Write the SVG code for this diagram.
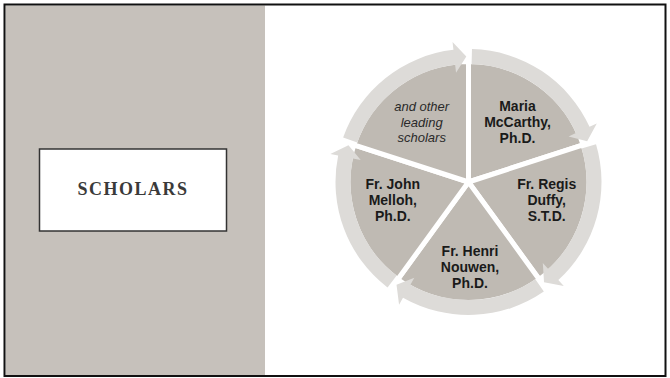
<svg xmlns="http://www.w3.org/2000/svg" width="670" height="378" viewBox="0 0 670 378">
<style>
.slice{fill:#bfbab3;stroke:#ffffff;stroke-width:5;stroke-linejoin:round}
.ring{fill:#dddbd8;stroke:none}
.lbl{font-family:"Liberation Sans",Arial,sans-serif;font-size:14px;font-weight:bold;fill:#1a1a1a;text-anchor:middle}
.ital{font-family:"Liberation Sans",Arial,sans-serif;font-size:13px;font-style:italic;fill:#2a2a2a;text-anchor:middle}
.title{font-family:"Liberation Serif","Times New Roman",serif;font-size:18px;font-weight:bold;fill:#3a3a3a;text-anchor:middle;letter-spacing:1.5px}
</style>
<rect x="0" y="0" width="670" height="378" fill="#ffffff"/>
<rect x="5.5" y="5.5" width="259.5" height="369.5" fill="#c6c1bb"/>
<rect x="4.5" y="4.5" width="661" height="371.5" fill="none" stroke="#111111" stroke-width="2"/>

<g id="scholars">
<rect x="39.5" y="149" width="187" height="82" fill="#ffffff" stroke="#333333" stroke-width="1.5"/>
<text class="title" x="133" y="195">SCHOLARS</text>
</g>

<g id="slice-mccarthy">
<path class="slice" d="M468.5 182 L468.5 61.5 A120.5 120.5 0 0 1 583.1 144.76 Z"/>
<text class="lbl"><tspan x="517.5" y="111.2">Maria</tspan><tspan x="517.5" y="127">McCarthy,</tspan><tspan x="517.5" y="142.8">Ph.D.</tspan></text>
</g>
<g id="slice-duffy">
<path class="slice" d="M468.5 182 L583.1 144.76 A120.5 120.5 0 0 1 539.33 279.49 Z"/>
<text class="lbl"><tspan x="546.7" y="189">Fr. Regis</tspan><tspan x="546.7" y="204.8">Duffy,</tspan><tspan x="546.7" y="220.6">S.T.D.</tspan></text>
</g>
<g id="slice-nouwen">
<path class="slice" d="M468.5 182 L539.33 279.49 A120.5 120.5 0 0 1 397.67 279.49 Z"/>
<text class="lbl"><tspan x="470" y="256.4">Fr. Henri</tspan><tspan x="470" y="272.2">Nouwen,</tspan><tspan x="470" y="288">Ph.D.</tspan></text>
</g>
<g id="slice-melloh">
<path class="slice" d="M468.5 182 L397.67 279.49 A120.5 120.5 0 0 1 353.9 144.76 Z"/>
<text class="lbl"><tspan x="392.8" y="189">Fr. John</tspan><tspan x="392.8" y="204.8">Melloh,</tspan><tspan x="392.8" y="220.6">Ph.D.</tspan></text>
</g>
<g id="slice-others">
<path class="slice" d="M468.5 182 L353.9 144.76 A120.5 120.5 0 0 1 468.5 61.5 Z"/>
<text class="ital"><tspan x="421.7" y="111">and other</tspan><tspan x="421.7" y="126.7">leading</tspan><tspan x="421.7" y="142.3">scholars</tspan></text>
</g>

<g id="connectors">
<path class="ring" d="M471.98 49.05 A133 133 0 0 1 589.52 126.85 L596.8 123.53 L587.16 141.14 L568.6 136.38 L575.88 133.07 A118 118 0 0 0 471.59 64.04 Z"/>
<path class="ring" d="M596.02 144.23 A133 133 0 0 1 558.35 280.06 L563.76 285.96 L544.03 282.23 L542.81 263.1 L548.22 269 A118 118 0 0 0 581.64 148.49 Z"/>
<path class="ring" d="M543.83 291.61 A133 133 0 0 1 403.01 297.76 L399.07 304.72 L396.52 284.8 L414.33 277.74 L410.39 284.7 A118 118 0 0 0 535.34 279.25 Z"/>
<path class="ring" d="M387.53 287.52 A133 133 0 0 1 338.17 155.48 L330.33 153.89 L348.48 145.31 L360.71 160.07 L352.87 158.47 A118 118 0 0 0 396.67 275.62 Z"/>
<path class="ring" d="M343.13 137.6 A133 133 0 0 1 453.44 49.86 L452.54 41.91 L466.31 56.52 L456.05 72.71 L455.14 64.76 A118 118 0 0 0 357.27 142.61 Z"/>
</g>
</svg>
